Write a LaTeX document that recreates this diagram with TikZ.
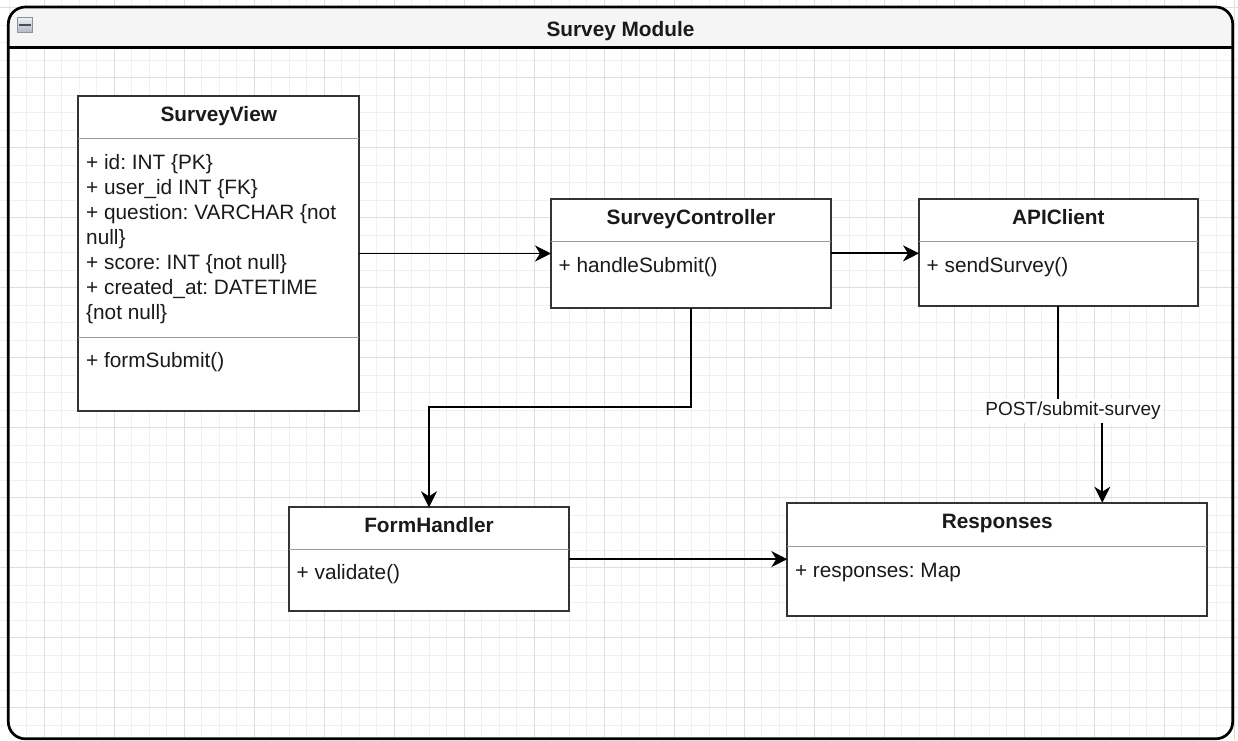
\documentclass[tikz,border=0pt]{standalone}
\usepackage{fontspec}
\setmainfont{Liberation Sans}
\usetikzlibrary{arrows.meta,calc}
\frenchspacing

\definecolor{gridminor}{HTML}{F0F0F0}
\definecolor{gridmajor}{HTML}{DEDEDE}
\definecolor{headerfill}{HTML}{F5F5F5}
\definecolor{boxline}{HTML}{333333}
\definecolor{sepline}{HTML}{9A9A9A}
\definecolor{txt}{HTML}{1A1A1A}
\definecolor{icontop}{HTML}{EEF0F6}
\definecolor{iconbot}{HTML}{AEB6C6}
\definecolor{iconedge}{HTML}{8A92A2}

\tikzset{
  classbox/.style={draw=boxline, fill=white, line width=1.75pt, inner sep=0pt,
    outer sep=0pt, anchor=north west, rectangle},
  classtitle/.style={font=\fontsize{20.8}{25.1}\bfseries\selectfont, text=txt,
    inner sep=0pt, anchor=base},
  member/.style={font=\fontsize{20.8}{25.1}\selectfont, text=txt,
    inner sep=0pt, anchor=base west},
  divider/.style={draw=sepline, line width=1.2pt},
  edge/.style={draw=black, line width=1.75pt,
    -{Stealth[length=16pt, width=16pt, inset=5pt]}},
  edgelabel/.style={font=\fontsize{19}{22}\selectfont, text=txt, fill=white,
    inner xsep=1pt, inner ysep=3pt},
}

\begin{document}
\begin{tikzpicture}[x=1pt, y=-1pt]
  \useasboundingbox (0,0) rectangle (1238,740);
  \fill[white] (0,0) rectangle (1238,740);

  % background grid: fine lines every 17.5, stronger lines every 70
  \foreach \k in {0,...,70}
    \draw[gridminor, line width=1pt] ({9.3+17.5*\k},0) -- ({9.3+17.5*\k},740);
  \foreach \k in {0,...,41}
    \draw[gridminor, line width=1pt] (0,{7.7+17.5*\k}) -- (1238,{7.7+17.5*\k});
  \foreach \k in {0,...,17}
    \draw[gridmajor, line width=1pt] ({44.3+70*\k},0) -- ({44.3+70*\k},740);
  \foreach \k in {0,...,10}
    \draw[gridmajor, line width=1pt] (0,{7.7+70*\k}) -- (1238,{7.7+70*\k});

  % container header band
  \begin{scope}
    \clip (0,0) rectangle (1238,47.7);
    \fill[headerfill, rounded corners=17pt] (8.3,7) rectangle (1232.7,738.8);
  \end{scope}

  % container frame
  \node[draw=black, line width=2.7pt, rounded corners=17pt, inner sep=0pt,
        outer sep=0pt, anchor=north west, minimum width=1224.4pt,
        minimum height=731.8pt] (module) at (8.3,7) {};
  \draw[line width=2.7pt] (module.north west |- 0,47.7) -- (module.north east |- 0,47.7);
  \node[classtitle] (moduletitle) at (620.5,36.7) {Survey Module};

  % collapse icon
  \node[draw=iconedge, line width=0.8pt, top color=icontop, bottom color=iconbot,
        minimum width=15.4pt, minimum height=15.4pt, inner sep=0pt,
        anchor=center] (collapse) at (25,25) {};
  \fill[black!70] ($(collapse.center)+(-5.8,-1.3)$) rectangle ($(collapse.center)+(5.8,1.3)$);

  % ---- SurveyView ----
  \node[classbox, minimum width=281pt, minimum height=315pt] (sv) at (78.3,96) {};
  \draw[divider] ($(sv.north west)+(0,42.3)$) -- ($(sv.north east)+(0,42.3)$);
  \draw[divider] ($(sv.north west)+(0,241.3)$) -- ($(sv.north east)+(0,241.3)$);
  \node[classtitle] (svtitle) at ($(sv.north)+(0,25)$) {SurveyView};
  \foreach \t [count=\i from 0] in {
      {+ id: INT \{PK\}},
      {+ user\_id INT \{FK\}},
      {+ question: VARCHAR \{not},
      {null\}},
      {+ score: INT \{not null\}},
      {+ created\_at: DATETIME},
      {\{not null\}}}
    \node[member] (svattr\i) at ($(sv.north west)+(7.7,{73+25.1*\i})$) {\t};
  \node[member] (svop) at ($(sv.north west)+(7.7,271.3)$) {+ formSubmit()};

  % ---- SurveyController ----
  \node[classbox, minimum width=280pt, minimum height=108.7pt] (sc) at (551,199) {};
  \draw[divider] ($(sc.north west)+(0,42.7)$) -- ($(sc.north east)+(0,42.7)$);
  \node[classtitle] (sctitle) at ($(sc.north)+(0,25.3)$) {SurveyController};
  \node[member] (scop) at ($(sc.north west)+(7.5,73)$) {+ handleSubmit()};

  % ---- APIClient ----
  \node[classbox, minimum width=278.7pt, minimum height=106.4pt] (api) at (919,199.3) {};
  \draw[divider] ($(api.north west)+(0,42.4)$) -- ($(api.north east)+(0,42.4)$);
  \node[classtitle] (apititle) at ($(api.north)+(0,25.3)$) {APIClient};
  \node[member] (apiop) at ($(api.north west)+(7.5,73)$) {+ sendSurvey()};

  % ---- FormHandler ----
  \node[classbox, minimum width=280pt, minimum height=103.7pt] (fh) at (289,507.3) {};
  \draw[divider] ($(fh.north west)+(0,42)$) -- ($(fh.north east)+(0,42)$);
  \node[classtitle] (fhtitle) at ($(fh.north)+(0,25.3)$) {FormHandler};
  \node[member] (fhop) at ($(fh.north west)+(7.5,72.5)$) {+ validate()};

  % ---- Responses ----
  \node[classbox, minimum width=420pt, minimum height=113.3pt] (resp) at (787.3,502.7) {};
  \draw[divider] ($(resp.north west)+(0,44)$) -- ($(resp.north east)+(0,44)$);
  \node[classtitle] (resptitle) at ($(resp.north)+(0,26)$) {Responses};
  \node[member] (respattr) at ($(resp.north west)+(7.5,75)$) {+ responses: Map};

  % ---- connectors ----
  \coordinate (turnfh) at (0,407.3);
  \coordinate (turnapi) at (0,411);
  \coordinate (respin) at ($(resp.north west)!0.75!(resp.north east)$);

  \draw[edge] (sv.east) -- (sv.east -| sc.west);
  \draw[edge] (sc.east) -- (sc.east -| api.west);
  \draw[edge] (sc.south) -- (sc.south |- turnfh) -| (fh.north);
  \draw[edge] (fh.east) -- (fh.east -| resp.west);
  \draw[edge] (api.south) -- (api.south |- turnapi) -| (respin);
  \node[edgelabel] (postlabel) at (1073,411) {POST/submit-survey};
\end{tikzpicture}
\end{document}
